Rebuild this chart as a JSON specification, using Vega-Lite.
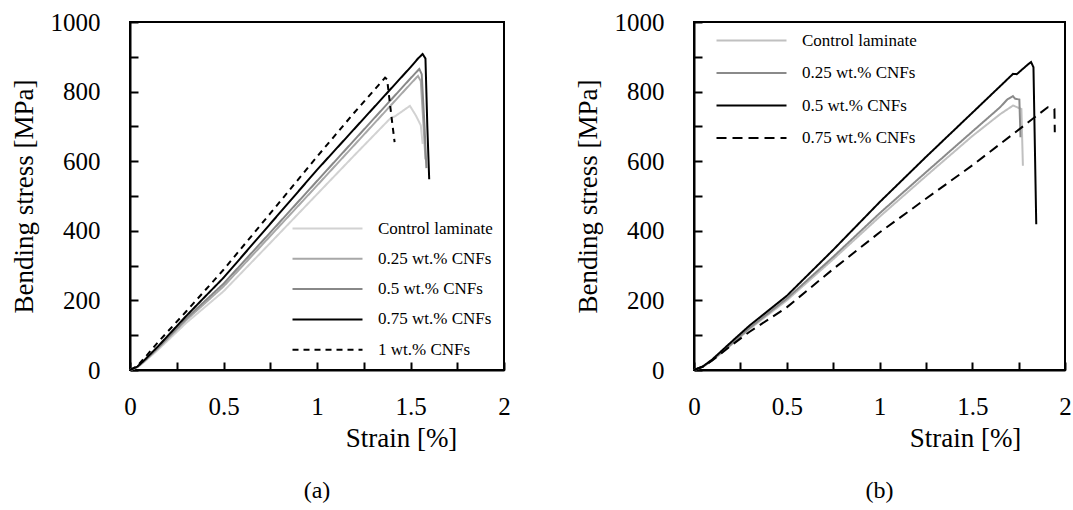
{
"$schema": "https://vega.github.io/schema/vega-lite/v6.json",
"background": "white",
"padding": {"top": 9, "left": 9, "right": 0, "bottom": 0},
"config": {
  "font": "Liberation Serif",
  "view": {"stroke": "black", "strokeWidth": 2},
  "axis": {"domainColor": "black", "domainWidth": 2, "tickColor": "black", "tickWidth": 2, "tickSize": -8, "grid": false,
    "labelFont": "Liberation Serif", "labelFontSize": 25, "labelColor": "black", "labelFlush": false, "labelOverlap": false,
    "titleFont": "Liberation Serif", "titleFontSize": 27, "titleFontWeight": "normal", "titleColor": "black"},
  "legend": {"labelFont": "Liberation Serif", "labelFontSize": 17, "labelColor": "black"},
  "title": {"font": "Liberation Serif", "fontSize": 24, "fontWeight": "normal", "color": "black"}
},
"datasets": {
  "a": [
    {"s":"Control laminate","i":0,"x":0,"y":0},{"s":"Control laminate","i":1,"x":0.04,"y":8},{"s":"Control laminate","i":2,"x":0.08,"y":25},{"s":"Control laminate","i":3,"x":0.15,"y":58},{"s":"Control laminate","i":4,"x":0.3,"y":135},{"s":"Control laminate","i":5,"x":0.5,"y":226},{"s":"Control laminate","i":6,"x":0.75,"y":365},{"s":"Control laminate","i":7,"x":1.0,"y":505},{"s":"Control laminate","i":8,"x":1.2,"y":617},{"s":"Control laminate","i":9,"x":1.39,"y":722},{"s":"Control laminate","i":10,"x":1.42,"y":730},{"s":"Control laminate","i":11,"x":1.497,"y":759},{"s":"Control laminate","i":12,"x":1.53,"y":730},{"s":"Control laminate","i":13,"x":1.555,"y":703},{"s":"Control laminate","i":14,"x":1.565,"y":650},
    {"s":"0.25 wt.% CNFs","i":0,"x":0,"y":0},{"s":"0.25 wt.% CNFs","i":1,"x":0.04,"y":9},{"s":"0.25 wt.% CNFs","i":2,"x":0.08,"y":27},{"s":"0.25 wt.% CNFs","i":3,"x":0.15,"y":62},{"s":"0.25 wt.% CNFs","i":4,"x":0.3,"y":143},{"s":"0.25 wt.% CNFs","i":5,"x":0.5,"y":240},{"s":"0.25 wt.% CNFs","i":6,"x":0.75,"y":385},{"s":"0.25 wt.% CNFs","i":7,"x":1.0,"y":530},{"s":"0.25 wt.% CNFs","i":8,"x":1.3,"y":705},{"s":"0.25 wt.% CNFs","i":9,"x":1.5,"y":822},{"s":"0.25 wt.% CNFs","i":10,"x":1.54,"y":845},{"s":"0.25 wt.% CNFs","i":11,"x":1.555,"y":830},{"s":"0.25 wt.% CNFs","i":12,"x":1.57,"y":700},{"s":"0.25 wt.% CNFs","i":13,"x":1.58,"y":605},
    {"s":"0.5 wt.% CNFs","i":0,"x":0,"y":0},{"s":"0.5 wt.% CNFs","i":1,"x":0.04,"y":9},{"s":"0.5 wt.% CNFs","i":2,"x":0.08,"y":28},{"s":"0.5 wt.% CNFs","i":3,"x":0.15,"y":64},{"s":"0.5 wt.% CNFs","i":4,"x":0.3,"y":148},{"s":"0.5 wt.% CNFs","i":5,"x":0.5,"y":248},{"s":"0.5 wt.% CNFs","i":6,"x":0.75,"y":395},{"s":"0.5 wt.% CNFs","i":7,"x":1.0,"y":543},{"s":"0.5 wt.% CNFs","i":8,"x":1.3,"y":720},{"s":"0.5 wt.% CNFs","i":9,"x":1.5,"y":838},{"s":"0.5 wt.% CNFs","i":10,"x":1.547,"y":865},{"s":"0.5 wt.% CNFs","i":11,"x":1.56,"y":850},{"s":"0.5 wt.% CNFs","i":12,"x":1.575,"y":700},{"s":"0.5 wt.% CNFs","i":13,"x":1.585,"y":580},
    {"s":"0.75 wt.% CNFs","i":0,"x":0,"y":0},{"s":"0.75 wt.% CNFs","i":1,"x":0.04,"y":10},{"s":"0.75 wt.% CNFs","i":2,"x":0.08,"y":30},{"s":"0.75 wt.% CNFs","i":3,"x":0.15,"y":68},{"s":"0.75 wt.% CNFs","i":4,"x":0.3,"y":155},{"s":"0.75 wt.% CNFs","i":5,"x":0.5,"y":265},{"s":"0.75 wt.% CNFs","i":6,"x":0.75,"y":420},{"s":"0.75 wt.% CNFs","i":7,"x":1.0,"y":575},{"s":"0.75 wt.% CNFs","i":8,"x":1.3,"y":752},{"s":"0.75 wt.% CNFs","i":9,"x":1.5,"y":870},{"s":"0.75 wt.% CNFs","i":10,"x":1.54,"y":895},{"s":"0.75 wt.% CNFs","i":11,"x":1.565,"y":908},{"s":"0.75 wt.% CNFs","i":12,"x":1.58,"y":895},{"s":"0.75 wt.% CNFs","i":13,"x":1.59,"y":700},{"s":"0.75 wt.% CNFs","i":14,"x":1.6,"y":548},
    {"s":"1 wt.% CNFs","i":0,"x":0,"y":0},{"s":"1 wt.% CNFs","i":1,"x":0.04,"y":12},{"s":"1 wt.% CNFs","i":2,"x":0.08,"y":36},{"s":"1 wt.% CNFs","i":3,"x":0.15,"y":80},{"s":"1 wt.% CNFs","i":4,"x":0.3,"y":168},{"s":"1 wt.% CNFs","i":5,"x":0.5,"y":288},{"s":"1 wt.% CNFs","i":6,"x":0.75,"y":450},{"s":"1 wt.% CNFs","i":7,"x":1.0,"y":613},{"s":"1 wt.% CNFs","i":8,"x":1.2,"y":740},{"s":"1 wt.% CNFs","i":9,"x":1.364,"y":840},{"s":"1 wt.% CNFs","i":10,"x":1.375,"y":835},{"s":"1 wt.% CNFs","i":11,"x":1.4,"y":720},{"s":"1 wt.% CNFs","i":12,"x":1.415,"y":655}
  ],
  "b": [
    {"s":"Control laminate","i":0,"x":0,"y":0},{"s":"Control laminate","i":1,"x":0.05,"y":10},{"s":"Control laminate","i":2,"x":0.1,"y":28},{"s":"Control laminate","i":3,"x":0.2,"y":72},{"s":"Control laminate","i":4,"x":0.3,"y":118},{"s":"Control laminate","i":5,"x":0.5,"y":200},{"s":"Control laminate","i":6,"x":0.75,"y":318},{"s":"Control laminate","i":7,"x":1.0,"y":440},{"s":"Control laminate","i":8,"x":1.25,"y":557},{"s":"Control laminate","i":9,"x":1.5,"y":672},{"s":"Control laminate","i":10,"x":1.65,"y":735},{"s":"Control laminate","i":11,"x":1.72,"y":760},{"s":"Control laminate","i":12,"x":1.765,"y":750},{"s":"Control laminate","i":13,"x":1.773,"y":587},
    {"s":"0.25 wt.% CNFs","i":0,"x":0,"y":0},{"s":"0.25 wt.% CNFs","i":1,"x":0.05,"y":10},{"s":"0.25 wt.% CNFs","i":2,"x":0.1,"y":29},{"s":"0.25 wt.% CNFs","i":3,"x":0.2,"y":74},{"s":"0.25 wt.% CNFs","i":4,"x":0.3,"y":121},{"s":"0.25 wt.% CNFs","i":5,"x":0.5,"y":205},{"s":"0.25 wt.% CNFs","i":6,"x":0.75,"y":325},{"s":"0.25 wt.% CNFs","i":7,"x":1.0,"y":450},{"s":"0.25 wt.% CNFs","i":8,"x":1.25,"y":568},{"s":"0.25 wt.% CNFs","i":9,"x":1.5,"y":685},{"s":"0.25 wt.% CNFs","i":10,"x":1.65,"y":755},{"s":"0.25 wt.% CNFs","i":11,"x":1.69,"y":778},{"s":"0.25 wt.% CNFs","i":12,"x":1.719,"y":787},{"s":"0.25 wt.% CNFs","i":13,"x":1.73,"y":780},{"s":"0.25 wt.% CNFs","i":14,"x":1.754,"y":777},{"s":"0.25 wt.% CNFs","i":15,"x":1.76,"y":669},
    {"s":"0.5 wt.% CNFs","i":0,"x":0,"y":0},{"s":"0.5 wt.% CNFs","i":1,"x":0.05,"y":11},{"s":"0.5 wt.% CNFs","i":2,"x":0.1,"y":31},{"s":"0.5 wt.% CNFs","i":3,"x":0.2,"y":80},{"s":"0.5 wt.% CNFs","i":4,"x":0.3,"y":128},{"s":"0.5 wt.% CNFs","i":5,"x":0.5,"y":213},{"s":"0.5 wt.% CNFs","i":6,"x":0.75,"y":345},{"s":"0.5 wt.% CNFs","i":7,"x":1.0,"y":482},{"s":"0.5 wt.% CNFs","i":8,"x":1.25,"y":612},{"s":"0.5 wt.% CNFs","i":9,"x":1.5,"y":739},{"s":"0.5 wt.% CNFs","i":10,"x":1.72,"y":851},{"s":"0.5 wt.% CNFs","i":11,"x":1.74,"y":850},{"s":"0.5 wt.% CNFs","i":12,"x":1.8,"y":878},{"s":"0.5 wt.% CNFs","i":13,"x":1.817,"y":885},{"s":"0.5 wt.% CNFs","i":14,"x":1.83,"y":870},{"s":"0.5 wt.% CNFs","i":15,"x":1.845,"y":419},
    {"s":"0.75 wt.% CNFs","i":0,"x":0,"y":0},{"s":"0.75 wt.% CNFs","i":1,"x":0.05,"y":10},{"s":"0.75 wt.% CNFs","i":2,"x":0.1,"y":28},{"s":"0.75 wt.% CNFs","i":3,"x":0.2,"y":70},{"s":"0.75 wt.% CNFs","i":4,"x":0.3,"y":110},{"s":"0.75 wt.% CNFs","i":5,"x":0.5,"y":180},{"s":"0.75 wt.% CNFs","i":6,"x":0.75,"y":290},{"s":"0.75 wt.% CNFs","i":7,"x":1.0,"y":395},{"s":"0.75 wt.% CNFs","i":8,"x":1.25,"y":492},{"s":"0.75 wt.% CNFs","i":9,"x":1.5,"y":588},{"s":"0.75 wt.% CNFs","i":10,"x":1.8,"y":711},{"s":"0.75 wt.% CNFs","i":11,"x":1.907,"y":755},{"s":"0.75 wt.% CNFs","i":12,"x":1.943,"y":750},{"s":"0.75 wt.% CNFs","i":13,"x":1.945,"y":683}
  ]
},
"spacing": 61,
"resolve": {"scale": {"color": "independent", "strokeDash": "independent"}, "legend": {"color": "independent", "strokeDash": "independent"}},
"hconcat": [
  {
    "width": 374, "height": 348,
    "data": {"name": "a"},
    "title": {"text": "(a)", "orient": "bottom", "offset": 28, "font": "Liberation Serif", "fontSize": 24, "fontWeight": "normal"},
    "mark": {"type": "line", "strokeWidth": 2},
    "encoding": {
      "x": {"field": "x", "type": "quantitative", "scale": {"domain": [0, 2], "nice": false},
        "axis": {"values": [0,0.25,0.5,0.75,1,1.25,1.5,1.75,2], "format": "~g", "labelExpr": "datum.value % 0.5 == 0 ? datum.label : ''", "labelPadding": 32, "title": "Strain [%]", "titleX": 271, "titleY": 55, "titleBaseline": "top", "titleFont": "Liberation Serif", "titleFontSize": 27, "titleFontWeight": "normal"}},
      "y": {"field": "y", "type": "quantitative", "scale": {"domain": [0, 1000], "nice": false},
        "axis": {"values": [0,100,200,300,400,500,600,700,800,900,1000], "format": "d", "labelExpr": "datum.value % 200 == 0 ? datum.label : ''", "labelPadding": 38, "title": "Bending stress [MPa]", "titlePadding": 12, "titleFont": "Liberation Serif", "titleFontSize": 27, "titleFontWeight": "normal"}},
      "order": {"field": "i", "type": "quantitative"},
      "color": {"field": "s", "type": "nominal",
        "scale": {"domain": ["Control laminate","0.25 wt.% CNFs","0.5 wt.% CNFs","0.75 wt.% CNFs","1 wt.% CNFs"], "range": ["#d2d2d2","#a8a8a8","#888888","#000000","#000000"]},
        "legend": {"title": null, "orient": "none", "legendX": 189, "legendY": 198, "symbolType": "M-5,0H5", "symbolSize": 196, "symbolStrokeWidth": 2, "labelOffset": 42, "rowPadding": 12.3}},
      "strokeDash": {"field": "s", "type": "nominal",
        "scale": {"domain": ["Control laminate","0.25 wt.% CNFs","0.5 wt.% CNFs","0.75 wt.% CNFs","1 wt.% CNFs"], "range": [[1,0],[1,0],[1,0],[1,0],[6,5]]},
        "legend": {"title": null, "orient": "none", "legendX": 189, "legendY": 198, "symbolType": "M-5,0H5", "symbolSize": 196, "symbolStrokeWidth": 2, "labelOffset": 42, "rowPadding": 12.3}}
    }
  },
  {
    "width": 371, "height": 348,
    "data": {"name": "b"},
    "title": {"text": "(b)", "orient": "bottom", "offset": 28, "font": "Liberation Serif", "fontSize": 24, "fontWeight": "normal"},
    "mark": {"type": "line", "strokeWidth": 2},
    "encoding": {
      "x": {"field": "x", "type": "quantitative", "scale": {"domain": [0, 2], "nice": false},
        "axis": {"values": [0,0.25,0.5,0.75,1,1.25,1.5,1.75,2], "format": "~g", "labelExpr": "datum.value % 0.5 == 0 ? datum.label : ''", "labelPadding": 32, "title": "Strain [%]", "titleX": 271, "titleY": 55, "titleBaseline": "top", "titleFont": "Liberation Serif", "titleFontSize": 27, "titleFontWeight": "normal"}},
      "y": {"field": "y", "type": "quantitative", "scale": {"domain": [0, 1000], "nice": false},
        "axis": {"values": [0,100,200,300,400,500,600,700,800,900,1000], "format": "d", "labelExpr": "datum.value % 200 == 0 ? datum.label : ''", "labelPadding": 38, "title": "Bending stress [MPa]", "titlePadding": 12, "titleFont": "Liberation Serif", "titleFontSize": 27, "titleFontWeight": "normal"}},
      "order": {"field": "i", "type": "quantitative"},
      "color": {"field": "s", "type": "nominal",
        "scale": {"domain": ["Control laminate","0.25 wt.% CNFs","0.5 wt.% CNFs","0.75 wt.% CNFs"], "range": ["#c0c0c0","#8a8a8a","#000000","#000000"]},
        "legend": {"title": null, "orient": "none", "legendX": 49, "legendY": 10, "symbolType": "M-5,0H5", "symbolSize": 196, "symbolStrokeWidth": 2, "labelOffset": 42, "rowPadding": 14.5}},
      "strokeDash": {"field": "s", "type": "nominal",
        "scale": {"domain": ["Control laminate","0.25 wt.% CNFs","0.5 wt.% CNFs","0.75 wt.% CNFs"], "range": [[1,0],[1,0],[1,0],[10,6]]},
        "legend": {"title": null, "orient": "none", "legendX": 49, "legendY": 10, "symbolType": "M-5,0H5", "symbolSize": 196, "symbolStrokeWidth": 2, "labelOffset": 42, "rowPadding": 14.5}}
    }
  }
]
}
